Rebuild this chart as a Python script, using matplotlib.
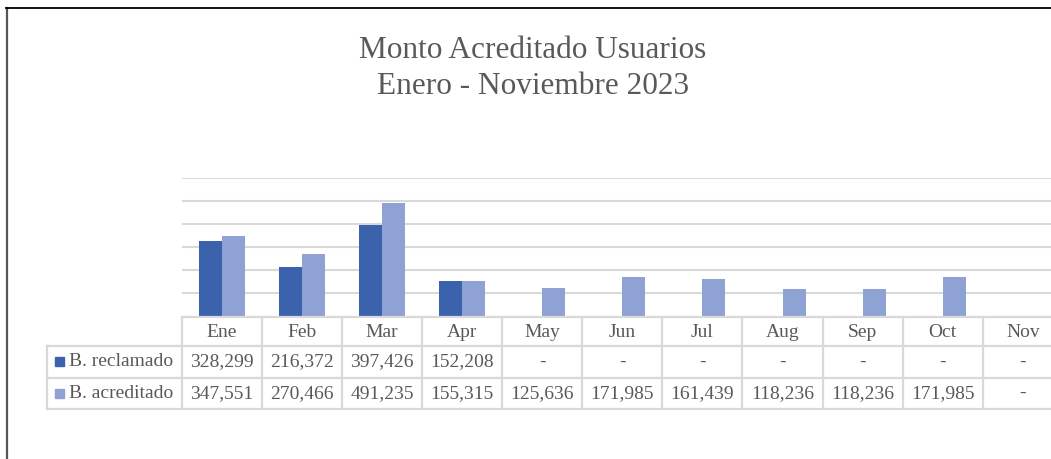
import matplotlib.pyplot as plt
from matplotlib.lines import Line2D
from matplotlib.patches import Rectangle
import numpy as np

months = ['Ene', 'Feb', 'Mar', 'Apr', 'May', 'Jun', 'Jul', 'Aug', 'Sep', 'Oct', 'Nov']
reclamado = [328299, 216372, 397426, 152208, None, None, None, None, None, None, None]
acreditado = [347551, 270466, 491235, 155315, 125636, 171985, 161439, 118236, 118236, 171985, None]
series_names = ['B. reclamado', 'B. acreditado']
colors = ['#3a62ad', '#8fa2d4']

plt.rcParams['font.family'] = ['Liberation Serif', 'DejaVu Serif']
text_color = '#595959'
line_color = '#d9d9d9'

W, H = 1051, 459
fig = plt.figure(figsize=(W / 100, H / 100), dpi=100)


def fx(px):
    return px / W


def fy(py):
    return 1 - py / H


# chart area
col_w = 80.07
ax = fig.add_axes([fx(182), fy(316.5), col_w * 11 / W, (316.5 - 178.3) / H])
x = np.arange(len(months))
bw = 0.2875
for i, (r, a) in enumerate(zip(reclamado, acreditado)):
    if r is not None:
        ax.bar(x[i] - bw / 2, r, bw, color=colors[0], zorder=2)
    if a is not None:
        ax.bar(x[i] + bw / 2, a, bw, color=colors[1], zorder=2)
ax.set_xlim(-0.5, 10.5)
ax.set_ylim(0, 600000)
ax.set_yticks(np.arange(0, 600001, 100000))
ax.yaxis.grid(True, color=line_color, lw=1.5)
ax.set_axisbelow(True)
ax.tick_params(left=False, bottom=False, labelleft=False, labelbottom=False)
for s in ax.spines.values():
    s.set_visible(False)

# data table
tax = fig.add_axes([fx(182), fy(409), col_w * 11 / W, (409 - 317.3) / H])
tax.set_xlim(-0.5, 10.5)
tax.set_ylim(3, 0)
tax.axis('off')
rows = [0, 0.94, 1.98, 3.0]
lab_left = (47.3 - 182) / col_w - 0.5
kw = dict(color=line_color, lw=1.6, clip_on=False, solid_capstyle='projecting')
for k in range(12):
    tax.plot([k - 0.5, k - 0.5], [0, 3], **kw)
tax.plot([lab_left, lab_left], [rows[1], 3], **kw)
tax.plot([-0.5, 10.5], [0, 0], **kw)
for yy in rows[1:]:
    tax.plot([lab_left, 10.5], [yy, yy], **kw)

fs = 14
for i, m in enumerate(months):
    tax.text(i, (rows[0] + rows[1]) / 2 + 0.03, m, ha='center', va='center',
             fontsize=fs, color=text_color, clip_on=False)
for j, vals in enumerate([reclamado, acreditado]):
    yc = (rows[j + 1] + rows[j + 2]) / 2
    for i, v in enumerate(vals):
        s = f'{v:,}' if v is not None else '-'
        tax.text(i, yc, s, ha='center', va='center', fontsize=fs,
                 color=text_color, clip_on=False)
    sq_x = (55 - 182) / col_w - 0.5
    sq_h = 9 / 30.57
    tax.add_patch(Rectangle((sq_x, yc - sq_h / 2), 9 / col_w, sq_h,
                            color=colors[j], clip_on=False))
    tax.text((68.7 - 182) / col_w - 0.5, yc, series_names[j], ha='left',
             va='center', fontsize=fs, color=text_color, clip_on=False)

# title
fig.text(fx(533), fy(58.5), 'Monto Acreditado Usuarios', ha='center',
         va='baseline', fontsize=22.5, color=text_color)
fig.text(fx(533), fy(93.5), 'Enero - Noviembre 2023', ha='center',
         va='baseline', fontsize=22.5, color=text_color)

# frame edges
fig.add_artist(Line2D([fx(7), fx(7)], [fy(8), 0], color='#555555', lw=1.6))
fig.add_artist(Line2D([fx(6), 1], [fy(8), fy(8)], color='black', lw=1.3))

fig.savefig('out.png', dpi=100)
